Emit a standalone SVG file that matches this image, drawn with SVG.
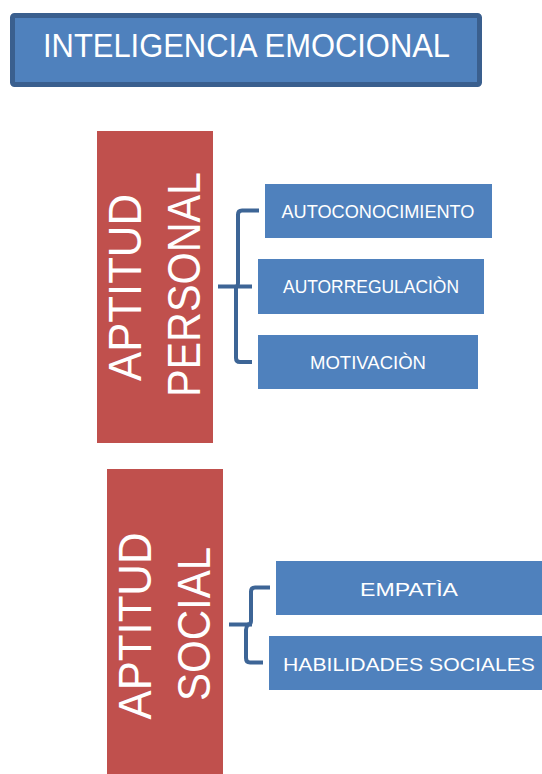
<svg xmlns="http://www.w3.org/2000/svg" width="542" height="774" viewBox="0 0 542 774">
<style>
.blue{fill:#4F81BD}
.red{fill:#C0504D}
.t{fill:#FFFFFF;font-family:"Liberation Sans",Arial,sans-serif;text-anchor:middle}
.s{font-size:19px}
.big{font-size:46px}
.conn path{fill:none;stroke:#3D6596;stroke-width:4;stroke-linejoin:round}
</style>
<rect width="542" height="774" fill="#FFFFFF"/>
<g id="title">
<rect x="12.5" y="15.5" width="467" height="69" rx="2" fill="#4F81BD" stroke="#3A5F8E" stroke-width="5"/>
<text class="t" x="246.5" y="57" font-size="33" textLength="407" lengthAdjust="spacingAndGlyphs">INTELIGENCIA EMOCIONAL</text>
</g>
<g id="aptitud-personal">
<rect class="red" x="97" y="131" width="116" height="312"/>
<text class="t big" transform="translate(141,287.5) rotate(-90)" textLength="187" lengthAdjust="spacingAndGlyphs">APTITUD</text>
<text class="t big" transform="translate(200,284.5) rotate(-90)" textLength="225" lengthAdjust="spacingAndGlyphs">PERSONAL</text>
</g>
<g id="autoconocimiento">
<rect class="blue" x="265" y="184" width="227" height="54"/>
<text class="t s" x="378" y="217.5" textLength="193" lengthAdjust="spacingAndGlyphs">AUTOCONOCIMIENTO</text>
</g>
<g id="autorregulacion">
<rect class="blue" x="258" y="259" width="226" height="55"/>
<text class="t s" x="371" y="293" textLength="176" lengthAdjust="spacingAndGlyphs">AUTORREGULACIÒN</text>
</g>
<g id="motivacion">
<rect class="blue" x="258" y="335" width="220" height="54"/>
<text class="t s" x="368" y="368.5" textLength="116" lengthAdjust="spacingAndGlyphs">MOTIVACIÒN</text>
</g>
<g id="aptitud-social">
<rect class="red" x="107" y="469" width="116" height="310"/>
<text class="t big" transform="translate(151,626) rotate(-90)" textLength="187" lengthAdjust="spacingAndGlyphs">APTITUD</text>
<text class="t big" transform="translate(210,624) rotate(-90)" textLength="154" lengthAdjust="spacingAndGlyphs">SOCIAL</text>
</g>
<g id="empatia">
<rect class="blue" x="276" y="561" width="270" height="54"/>
<text class="t s" x="409" y="596" textLength="98" lengthAdjust="spacingAndGlyphs">EMPATÌA</text>
</g>
<g id="habilidades-sociales">
<rect class="blue" x="269" y="636" width="280" height="54"/>
<text class="t s" x="409" y="671" textLength="252" lengthAdjust="spacingAndGlyphs">HABILIDADES SOCIALES</text>
</g>
<g class="conn" id="connectors">
<path d="M259,210.5 H242 Q238,210.5 238,214.5 V283 Q238,286.5 236,286.5 Q236,290 236,294 V358 Q236,362 240,362 H252"/>
<path d="M218,286.5 H252"/>
<path d="M270,587.5 H255 Q251,587.5 251,591.5 V621 Q251,624.5 248,624.5 Q246,627 246,630 V658 Q246,662.5 250,662.5 H263"/>
<path d="M229,624.5 H252"/>
</g>
</svg>
